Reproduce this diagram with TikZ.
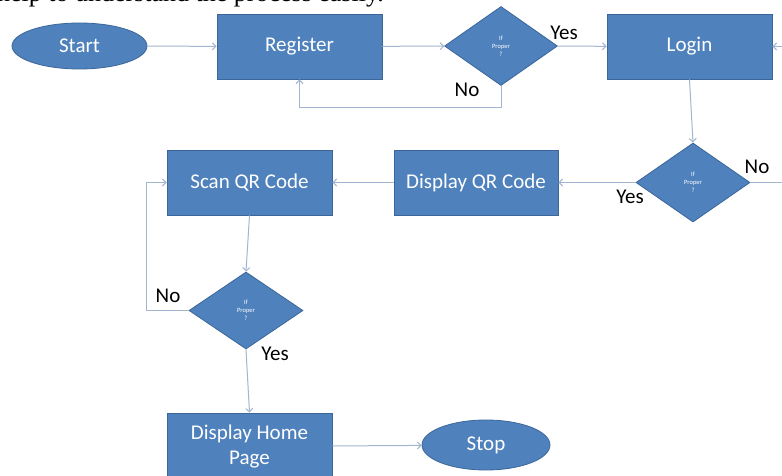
\documentclass[tikz,border=0pt]{standalone}
\usepackage{fontspec}
\setmainfont{Carlito}
\newfontfamily\seriffont{Liberation Serif}
\usetikzlibrary{shapes.geometric,arrows.meta}
\definecolor{boxblue}{HTML}{4F81BD}
\definecolor{boxborder}{HTML}{3B6699}
\definecolor{connc}{HTML}{A3B6CF}
\tikzset{
  procbox/.style={draw=boxborder, fill=boxblue, line width=0.8pt, minimum width=165pt, minimum height=65pt,
    text=white, font=\fontsize{21}{25}\selectfont, align=center, inner sep=0pt},
  term/.style={ellipse, draw=boxborder, fill=boxblue, line width=0.8pt, text=white,
    font=\fontsize{21}{25}\selectfont, inner sep=0pt},
  decision/.style={diamond, draw=boxborder, fill=boxblue, line width=0.8pt, text=white,
    font=\fontsize{6.5}{8}\selectfont, align=center, inner sep=0pt, minimum width=113pt, minimum height=79pt},
  conn/.style={draw=connc, line width=1pt, -{Straight Barb[length=3.5pt,width=7pt]}},
  connline/.style={draw=connc, line width=1pt},
  lbl/.style={font=\fontsize{21}{24}\selectfont, text=black, inner sep=0pt}
}
\begin{document}
\begin{tikzpicture}[x=1pt,y=-1pt]
\useasboundingbox (0,0) rectangle (782,476);
\fill[white] (0,0) rectangle (782,476);
\node[anchor=base east, inner sep=0pt, font=\seriffont\fontsize{26}{26}\selectfont] (hdr) at (384,2) {help to understand the process easily.};

\node[term, minimum width=135pt, minimum height=46pt] (start) at (79.5,46) {Start};
\node[procbox] (reg) at (299.5,46.5) {Register};
\node[decision] (d1) at (501,46) {If\\Proper\\?};
\node[procbox] (login) at (689.5,46.5) {Login};
\node[decision, minimum width=114pt] (d2) at (693,182.5) {If\\Proper\\?};
\node[procbox, minimum width=164pt] (dqr) at (476,182.5) {Display QR Code};
\node[procbox] (sqr) at (249.5,182.5) {Scan QR Code};
\node[decision, minimum width=114pt, minimum height=77pt] (d3) at (246,310.5) {If\\Proper\\?};
\node[procbox, minimum height=67pt] (dhp) at (249.5,446.5) {Display Home\\Page};
\node[term, minimum width=128pt, minimum height=50pt] (stop) at (486,445) {Stop};

\coordinate (rin) at (782,46.5);
\coordinate (rout) at (782,182.5);

\draw[conn] (start) -- (reg);
\draw[conn] (reg) -- (d1);
\draw[conn] (d1) -- (login);
\draw[conn] (d1.south) -- ++(0,22) -| (reg.south);
\draw[conn] (rin) -- (login.east);
\draw[conn] (login.south) -- (d2.north);
\draw[connline] (d2.east) -- (rout);
\draw[conn] (d2) -- (dqr);
\draw[conn] (dqr) -- (sqr);
\draw[conn] (sqr.south) -- (d3.north);
\draw[conn] (d3.west) -- ++(-42,0) |- (sqr.west);
\draw[conn] (d3.south) -- (dhp.north);
\draw[conn] (dhp) -- (stop);

\node[lbl] (y1) at (564,33) {Yes};
\node[lbl] (n1) at (467,90) {No};
\node[lbl] (n2) at (757,167) {No};
\node[lbl] (y2) at (630,197) {Yes};
\node[lbl] (n3) at (168,296) {No};
\node[lbl] (y3) at (275,354) {Yes};
\end{tikzpicture}
\end{document}
